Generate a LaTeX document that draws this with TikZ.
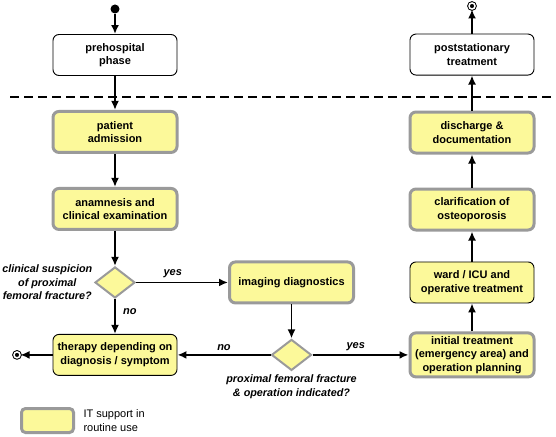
\documentclass[tikz,border=0pt]{standalone}
\usepackage{fontspec}
\setmainfont{Liberation Sans}
\usepackage{tikz}
\usetikzlibrary{positioning,arrows.meta,shapes.geometric}
\usepackage{xcolor}
\definecolor{ityellow}{HTML}{FCF99A}
\definecolor{itgray}{HTML}{9A9A9A}

\begin{document}
\begin{tikzpicture}[node distance=34pt,>={Latex[length=9pt,width=8pt]},font=\fontsize{11}{13.5}\selectfont\bfseries]
    \tikzstyle{blk}=[rounded corners=6pt,minimum width=124pt,minimum height=41pt,align=center,inner sep=2pt]
    \tikzstyle{plain}=[blk,draw=black,line width=0.9pt,fill=white]
    \tikzstyle{itblk}=[blk,draw=itgray,line width=3pt,fill=ityellow]
    \tikzstyle{wblk}=[blk,draw=black,line width=0.9pt,fill=ityellow]
    \tikzstyle{dec}=[diamond,draw=itgray,line width=2pt,fill=ityellow,minimum width=40pt,minimum height=31pt,inner sep=0pt]
    \tikzstyle{qtxt}=[align=center,inner sep=0.5pt,font=\fontsize{10.8}{13.5}\selectfont\bfseries\itshape]
    \tikzstyle{lbl}=[font=\fontsize{11}{12}\selectfont\bfseries\itshape]
    \tikzstyle{flow}=[->,line width=1.8pt]
    \tikzstyle{stopdot}=[circle,draw=black,fill=black,double=white,double distance=1.5pt,line width=1pt,minimum size=6pt,inner sep=0pt]
    \useasboundingbox (0,0) rectangle (556pt,-436pt);

    % left column
    \node[plain] (pre) at (115pt,-55pt) {prehospital\\ phase};
    \node[itblk,below=34pt of pre] (adm) {patient\\ admission};
    \node[itblk,below=33pt of adm] (ana) {anamnesis and\\ clinical examination};
    \node[dec,below=35pt of ana] (susp) {};
    \node[wblk,below=35pt of susp] (ther) {therapy depending on\\ diagnosis / symptom};
    \node[qtxt,left=1pt of susp] {clinical suspicion\\ of proximal\\ femoral fracture?};

    % middle
    \node[itblk,right=92pt of susp] (img) {imaging diagnostics};
    \node[dec] (ind) at (img |- ther) {};
    \node[qtxt,below=3pt of ind] {proximal femoral fracture\\ \& operation indicated?};

    % right column
    \node[itblk,right=96pt of ind,minimum height=44pt] (init) {initial treatment\\ (emergency area) and\\ operation planning};
    \node[wblk,above=28pt of init] (ward) {ward / ICU and\\ operative treatment};
    \node[itblk,above=30pt of ward] (oste) {clarification of\\ osteoporosis};
    \node[itblk,above=33pt of oste] (dis) {discharge \&\\ documentation};
    \node[plain,above=35pt of dis] (post) {poststationary\\ treatment};

    % start and end points
    \node[circle,fill=black,minimum size=9pt,inner sep=0pt] (start) at (pre.north |- 0,-9pt) {};
    \node[stopdot] (stop) at (ther.west -| 17pt,0) {};
    \node[stopdot] (exit) at (post.north |- 0,-6pt) {};

    \draw[flow] (start) -- (pre);
    \draw[flow] (pre) -- (adm);
    \draw[flow] (adm) -- (ana);
    \draw[flow] (ana) -- (susp);
    \draw[flow] (susp) -- node[lbl,above,pos=0.4]{yes} (img);
    \draw[flow] (susp) -- node[lbl,right=4pt,pos=0.35]{no} (ther);
    \draw[flow] (img) -- (ind);
    \draw[flow] (ind) -- node[lbl,above]{no} (ther);
    \draw[flow] (ind) -- node[lbl,above,pos=0.45]{yes} (init);
    \draw[flow] (ther) -- (stop);
    \draw[flow] (init) -- (ward);
    \draw[flow] (ward) -- (oste);
    \draw[flow] (oste) -- (dis);
    \draw[flow] (dis) -- (post);
    \draw[flow] (post) -- (exit);

    % stationary / non-stationary border
    \draw[line width=2pt,dash pattern=on 9pt off 5pt] (10pt,-97pt) -- (556pt,-97pt);

    % legend
    \node[itblk,minimum width=52pt,minimum height=24pt,rounded corners=4pt] (leg) at (47.5pt,-420.5pt) {};
    \node[right=5pt of leg,align=left,font=\fontsize{11}{14}\selectfont] (legtxt) {IT support in\\ routine use};
\end{tikzpicture}
\end{document}
